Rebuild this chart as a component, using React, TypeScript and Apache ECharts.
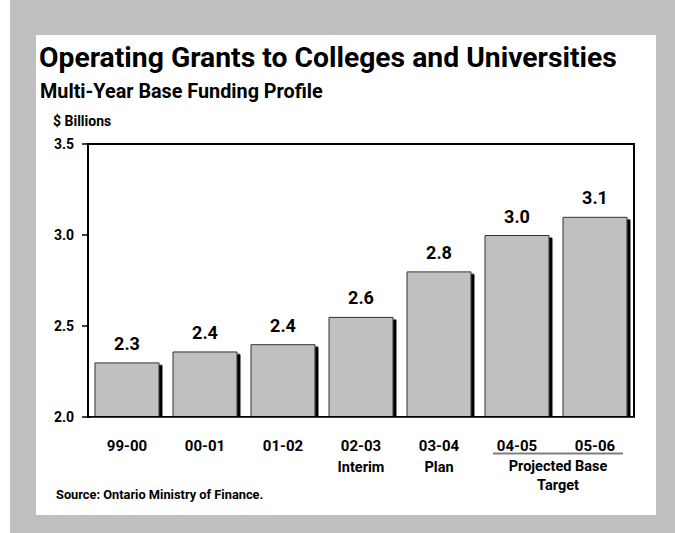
import React, { useEffect, useRef } from "react";
import * as echarts from "echarts";

const categories = ["99-00", "00-01", "01-02", "02-03", "03-04", "04-05", "05-06"];
const subLabels = ["", "", "", "Interim", "Plan", "", ""];
const values = [2.3, 2.36, 2.4, 2.55, 2.8, 3.0, 3.1];
const valueLabels = ["2.3", "2.4", "2.4", "2.6", "2.8", "3.0", "3.1"];
const yTicks = { min: 2.0, max: 3.5, interval: 0.5 };
const titleText = "Operating Grants to Colleges and Universities";
const subtitleText = "Multi-Year Base Funding Profile";
const unitText = "$ Billions";
const groupLabel1 = "Projected Base";
const groupLabel2 = "Target";
const sourceText = "Source: Ontario Ministry of Finance.";

const FONT = "Roboto, 'Liberation Sans', sans-serif";

export default function App() {
  const ref = useRef<HTMLDivElement>(null);
  useEffect(() => {
    if (!ref.current) return;
    const chart = echarts.init(ref.current, undefined, { renderer: "svg" });
    chart.setOption({
      animation: false,
      backgroundColor: "#ffffff",
      textStyle: { fontFamily: FONT },
      grid: {
        left: 88,
        right: 41,
        top: 144,
        bottom: 116,
        show: true,
        borderColor: "#000",
        borderWidth: 2,
        backgroundColor: "transparent",
      },
      xAxis: {
        type: "category",
        data: categories,
        z: 10,
        axisLine: { lineStyle: { color: "#000", width: 2 } },
        axisTick: { show: false },
        axisLabel: {
          margin: 18,
          interval: 0,
          formatter: (v: string, i: number) =>
            subLabels[i] ? `{a|${v}}\n{b|${subLabels[i]}}` : `{a|${v}}`,
          rich: {
            a: { fontFamily: FONT, fontWeight: "bold", fontSize: 15, color: "#000", lineHeight: 21 },
            b: { fontFamily: FONT, fontWeight: "bold", fontSize: 14.5, color: "#000", lineHeight: 22 },
          },
        },
      },
      yAxis: {
        type: "value",
        min: yTicks.min,
        max: yTicks.max,
        interval: yTicks.interval,
        z: 10,
        splitLine: { show: false },
        axisLine: { show: true, lineStyle: { color: "#000", width: 2 } },
        axisTick: { show: true, length: 6, lineStyle: { color: "#000", width: 1.5 } },
        axisLabel: {
          margin: 14,
          fontFamily: FONT,
          fontWeight: "bold",
          fontSize: 14,
          color: "#000",
          formatter: (v: number) => v.toFixed(1),
        },
      },
      series: [
        {
          type: "bar",
          data: values,
          barCategoryGap: "16.7%",
          itemStyle: {
            color: "#c0c0c0",
            borderColor: "#333",
            borderWidth: 1,
            shadowColor: "#000",
            shadowOffsetX: 3,
            shadowOffsetY: 2.5,
            shadowBlur: 0,
          },
          label: {
            show: true,
            position: "top",
            distance: 10,
            fontFamily: FONT,
            fontWeight: "bold",
            fontSize: 18,
            color: "#000",
            formatter: (p: any) => valueLabels[p.dataIndex],
          },
        },
      ],
      graphic: [
        { type: "rect", z: -10, shape: { x: 10, y: 0, width: 665, height: 533 }, style: { fill: "#c0c0c0" } },
        { type: "rect", z: -9, shape: { x: 36, y: 35, width: 620, height: 480 }, style: { fill: "#ffffff" } },
        { type: "rect", z: 100, shape: { x: 90, y: 417.8, width: 548, height: 4 }, style: { fill: "#ffffff" } },
        {
          type: "text", x: 39, y: 57.3,
          style: { text: titleText, font: `bold 28.3px ${FONT}`, fill: "#000", verticalAlign: "middle" },
        },
        {
          type: "text", x: 40, y: 91.6,
          style: { text: subtitleText, font: `bold 19.8px ${FONT}`, fill: "#000", verticalAlign: "middle" },
        },
        {
          type: "text", x: 53, y: 120.5,
          style: { text: unitText, font: `bold 14px ${FONT}`, fill: "#000", verticalAlign: "middle" },
        },
        {
          type: "line",
          shape: { x1: 493, y1: 453.5, x2: 623, y2: 453.5 },
          style: { stroke: "#808080", lineWidth: 2 },
        },
        {
          type: "text", x: 558, y: 466.5,
          style: { text: groupLabel1, font: `bold 14.5px ${FONT}`, fill: "#000", align: "center", verticalAlign: "middle" },
        },
        {
          type: "text", x: 558, y: 485,
          style: { text: groupLabel2, font: `bold 14.5px ${FONT}`, fill: "#000", align: "center", verticalAlign: "middle" },
        },
        {
          type: "text", x: 56, y: 494.5,
          style: { text: sourceText, font: `bold 12.8px ${FONT}`, fill: "#000", verticalAlign: "middle" },
        },
      ],
    });
    return () => chart.dispose();
  }, []);
  return (
    <div
      ref={ref}
      style={{ position: "fixed", left: 0, top: 0, width: 675, height: 533 }}
    />
  );
}
